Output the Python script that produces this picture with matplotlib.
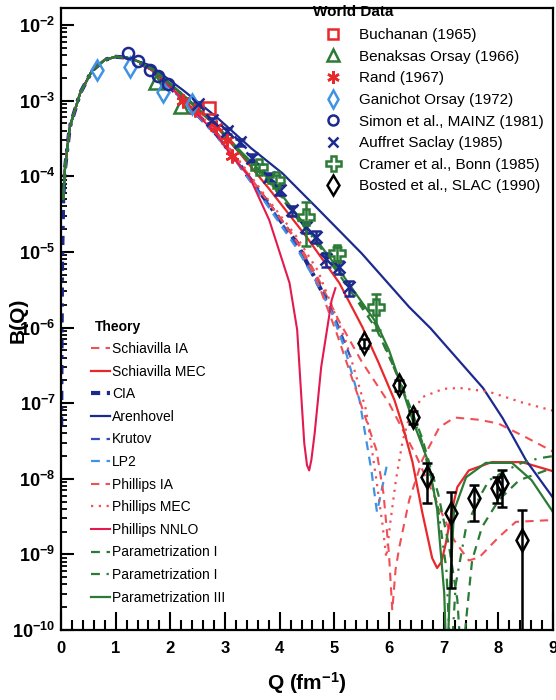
import matplotlib.pyplot as plt
import matplotlib.ticker as mticker
from matplotlib.lines import Line2D
import numpy as np

plt.rcParams['font.family'] = ['Liberation Sans', 'DejaVu Sans']
plt.rcParams['font.weight'] = 'normal'
plt.rcParams['mathtext.fontset'] = 'custom'
plt.rcParams['mathtext.rm'] = 'Liberation Sans:bold'
plt.rcParams['mathtext.bf'] = 'Liberation Sans:bold'
plt.rcParams['mathtext.it'] = 'Liberation Sans:bold'

# ---- theory curves: Q (fm^-1) and log10 B(Q) ----
lowq_Q = [0.04, 0.07, 0.16, 0.35, 0.57, 0.80, 1.00, 1.20, 1.41]
lowq_logB = [-4.3, -3.92, -3.35, -2.90, -2.60, -2.46, -2.42, -2.43, -2.48]

cia_start_Q = [0.003, 0.01, 0.02]
cia_start_logB = [-7.3, -6.2, -5.1]

schiavilla_ia_Q = [1.72, 2.23, 2.85, 3.3, 3.76, 4.31, 4.67, 5.09, 5.5, 6.0, 6.5, 6.9, 7.19, 7.46, 7.65, 8.01, 8.32, 8.87, 9.0]
schiavilla_ia_logB = [-2.63, -2.97, -3.42, -3.85, -4.31, -4.84, -5.30, -5.92, -6.45, -7.0, -7.7, -8.35, -8.81, -9.08, -9.04, -8.77, -8.57, -8.55, -8.55]

schiavilla_mec_Q = [1.72, 2.23, 2.85, 3.3, 3.8, 4.49, 5.09, 5.51, 5.8, 6.1, 6.25, 6.43, 6.61, 6.79, 6.88, 6.96, 7.04, 7.15, 7.25, 7.46, 7.88, 8.43, 9.0]
schiavilla_mec_logB = [-2.62, -2.93, -3.35, -3.72, -4.16, -4.80, -5.41, -5.99, -6.45, -6.96, -7.3, -7.78, -8.45, -9.05, -9.18, -9.1, -8.85, -8.42, -8.11, -7.89, -7.78, -7.78, -7.90]

cia_Q = [1.72, 2.23, 2.85, 3.3, 3.76, 4.31, 4.9]
cia_logB = [-2.63, -2.99, -3.45, -3.88, -4.33, -4.88, -5.70]

arenhovel_Q = [1.62, 2.23, 2.85, 3.48, 4.05, 4.67, 5.5, 6.37, 6.76, 7.72, 8.08, 8.51, 9.0]
arenhovel_logB = [-2.53, -2.86, -3.22, -3.63, -3.96, -4.41, -5.02, -5.73, -6.01, -6.80, -7.20, -7.76, -8.25]

krutov_Q = [1.72, 2.23, 2.85, 3.3, 3.76, 4.31, 4.67, 5.0, 5.3]
krutov_logB = [-2.63, -2.99, -3.44, -3.88, -4.33, -4.90, -5.35, -5.85, -6.40]

lp2_Q = [1.72, 2.23, 2.85, 3.3, 3.76, 4.31, 4.67, 4.95, 5.2, 5.46, 5.68, 5.78, 5.88, 5.97]
lp2_logB = [-2.64, -3.0, -3.47, -3.9, -4.37, -4.95, -5.40, -5.80, -6.3, -6.96, -7.90, -8.44, -8.1, -7.79]

phillips_ia_Q = [1.72, 2.23, 2.85, 3.3, 3.76, 4.31, 4.67, 5.04, 5.46, 5.77, 5.9, 6.0, 6.06, 6.12, 6.19, 6.37, 6.61, 6.92, 7.2, 7.65, 8.0, 8.5, 9.0]
phillips_ia_logB = [-2.63, -2.98, -3.43, -3.86, -4.31, -4.86, -5.35, -6.07, -6.96, -7.62, -8.2, -9.0, -9.74, -9.2, -8.90, -8.28, -7.75, -7.32, -7.19, -7.22, -7.27, -7.45, -7.64]

phillips_mec_Q = [1.72, 2.23, 2.85, 3.3, 3.76, 4.31, 4.7, 5.22, 5.58, 5.77, 5.88, 5.95, 6.02, 6.13, 6.25, 6.37, 6.61, 7.0, 7.3, 7.83, 8.43, 9.0]
phillips_mec_logB = [-2.63, -2.97, -3.41, -3.83, -4.28, -4.80, -5.25, -6.2, -7.09, -8.02, -8.6, -9.04, -8.6, -8.0, -7.5, -7.19, -6.92, -6.81, -6.80, -6.85, -6.99, -7.10]

phillips_nnlo_Q = [1.72, 2.23, 2.85, 3.14, 3.45, 3.81, 4.18, 4.32, 4.40, 4.45, 4.50, 4.54, 4.58, 4.64, 4.76, 4.95, 5.02]
phillips_nnlo_logB = [-2.63, -2.98, -3.45, -3.75, -4.01, -4.58, -5.41, -6.03, -6.96, -7.53, -7.82, -7.89, -7.75, -7.40, -6.52, -5.64, -5.48]

param1_Q = [1.72, 2.23, 2.85, 3.3, 3.87, 4.49, 5.09, 5.77, 6.2, 6.6, 6.9, 7.1, 7.25, 7.33, 7.42, 7.52, 7.70, 8.01, 8.38, 8.87, 9.0]
param1_logB = [-2.61, -2.93, -3.35, -3.71, -4.13, -4.72, -5.30, -6.02, -6.7, -7.45, -8.2, -8.9, -9.6, -10.5, -9.8, -9.08, -8.64, -8.28, -8.02, -7.89, -7.85]

param2_Q = [1.72, 2.23, 2.85, 3.3, 3.87, 4.49, 5.09, 5.77, 6.2, 6.6, 6.9, 7.05, 7.13, 7.22, 7.41, 7.65, 7.83, 8.14, 8.43, 8.74, 9.0]
param2_logB = [-2.61, -2.92, -3.34, -3.70, -4.11, -4.70, -5.27, -5.98, -6.72, -7.5, -8.4, -9.2, -10.5, -9.4, -8.64, -8.25, -8.02, -7.89, -7.79, -7.73, -7.70]

param3_Q = [1.72, 2.23, 2.85, 3.3, 3.87, 4.49, 5.09, 5.77, 6.0, 6.19, 6.43, 6.72, 6.88, 7.01, 7.06, 7.11, 7.19, 7.41, 7.77, 8.25, 8.61, 9.0]
param3_logB = [-2.60, -2.92, -3.33, -3.68, -4.09, -4.67, -5.24, -5.94, -6.30, -6.70, -7.22, -7.78, -8.4, -9.51, -10.6, -9.5, -8.42, -7.98, -7.79, -7.79, -8.02, -8.44]

# ---- world data: Q, log10 B, relative errors ----
buchanan_Q = [2.70]
buchanan_logB = [-3.10]

benaksas_Q = [1.73, 2.19]
benaksas_logB = [-2.75, -3.07]

rand_Q = [2.23, 2.45, 2.84, 3.03, 3.13]
rand_logB = [-3.00, -3.13, -3.35, -3.52, -3.73]

ganichot_Q = [0.66, 1.26, 1.86, 2.40]
ganichot_logB = [-2.60, -2.55, -2.88, -3.05]

simon_Q = [1.22, 1.40, 1.62, 1.77, 1.95]
simon_logB = [-2.37, -2.48, -2.60, -2.68, -2.78]

auffret_Q = [2.50, 2.77, 3.03, 3.27, 3.50, 3.81, 4.00, 4.23, 4.49, 4.67, 4.85, 5.09, 5.27]
auffret_logB = [-3.05, -3.26, -3.40, -3.55, -3.76, -4.01, -4.18, -4.45, -4.67, -4.80, -5.10, -5.20, -5.47]
auffret_relerr = [0.08, 0.08, 0.1, 0.1, 0.12, 0.12, 0.15, 0.15, 0.18, 0.18, 0.2, 0.2, 0.22]

cramer_Q = [3.63, 3.94, 4.49, 5.05, 5.77]
cramer_logB = [-3.88, -4.05, -4.54, -5.02, -5.73]
cramer_relerr = [0.1, 0.15, 0.58, 0.22, 0.5]

bosted_Q = [5.55, 6.19, 6.43, 6.70, 7.13, 7.55, 7.97, 8.07, 8.43]
bosted_logB = [-6.21, -6.76, -7.18, -7.98, -8.45, -8.26, -8.12, -8.06, -8.81]
bosted_relerr = [0.13, 0.17, 0.2, 0.55, 0.9, 0.5, 0.37, 0.52, 1.5]

y_tick_labels = [r'$\mathbf{10^{-10}}$', r'$\mathbf{10^{-9}}$', r'$\mathbf{10^{-8}}$', r'$\mathbf{10^{-7}}$',
                 r'$\mathbf{10^{-6}}$', r'$\mathbf{10^{-5}}$', r'$\mathbf{10^{-4}}$', r'$\mathbf{10^{-3}}$',
                 r'$\mathbf{10^{-2}}$']

RED = '#e8282a'
LRED = '#f04f55'
CRIMSON = '#e3194f'
NAVY = '#1c2a8f'
MBLUE = '#3050b8'
LBLUE = '#3f92e4'
GREEN = '#2b7a35'

fig = plt.figure(figsize=(5.56, 7.0), dpi=100)
ax = fig.add_axes([61 / 556, 70 / 700, 492 / 556, 622 / 700])


def curve(q, lb, start_q=lowq_Q, start_lb=lowq_logB):
    return np.array(start_q + q), 10.0 ** np.array(start_lb + lb)


theory = [
    ('Schiavilla IA', schiavilla_ia_Q, schiavilla_ia_logB, dict(color=LRED, ls=(0, (4, 3)), lw=1.5)),
    ('Schiavilla MEC', schiavilla_mec_Q, schiavilla_mec_logB, dict(color=RED, ls='-', lw=1.6)),
    ('CIA', cia_Q, cia_logB, dict(color=NAVY, ls=(0, (2.2, 1.6, 0.8, 1.6)), lw=3.0)),
    ('Arenhovel', arenhovel_Q, arenhovel_logB, dict(color=NAVY, ls='-', lw=1.6)),
    ('Krutov', krutov_Q, krutov_logB, dict(color=MBLUE, ls=(0, (4, 3)), lw=1.6)),
    ('LP2', lp2_Q, lp2_logB, dict(color=LBLUE, ls=(0, (4, 3)), lw=1.6)),
    ('Phillips IA', phillips_ia_Q, phillips_ia_logB, dict(color=LRED, ls=(0, (4, 3)), lw=1.5)),
    ('Phillips MEC', phillips_mec_Q, phillips_mec_logB, dict(color=LRED, ls=(0, (1, 2.5)), lw=1.6)),
    ('Phillips NNLO', phillips_nnlo_Q, phillips_nnlo_logB, dict(color=CRIMSON, ls='-', lw=1.5)),
    ('Parametrization I', param1_Q, param1_logB, dict(color=GREEN, ls=(0, (4, 3)), lw=1.6)),
    ('Parametrization I', param2_Q, param2_logB, dict(color=GREEN, ls=(0, (4, 3, 1, 3)), lw=1.6)),
    ('Parametrization III', param3_Q, param3_logB, dict(color=GREEN, ls='-', lw=1.6)),
]

theory_handles = []
for name, q, lb, st in theory:
    if name == 'CIA':
        x, y = curve(q, lb, cia_start_Q + lowq_Q, cia_start_logB + lowq_logB)
    else:
        x, y = curve(q, lb)
    ax.plot(x, y, zorder=2, **st)
    theory_handles.append(Line2D([], [], label=name, **st))

# world data
data = [
    ('Buchanan (1965)', buchanan_Q, buchanan_logB, None, dict(marker='s', color=RED, ms=8)),
    ('Benaksas Orsay (1966)', benaksas_Q, benaksas_logB, None, dict(marker='^', color=GREEN, ms=10)),
    ('Rand (1967)', rand_Q, rand_logB, None, dict(marker=(6, 2, 0), color=RED, ms=10)),
    ('Ganichot Orsay (1972)', ganichot_Q, ganichot_logB, None, dict(marker='d', color=LBLUE, ms=10)),
    ('Simon et al., MAINZ (1981)', simon_Q, simon_logB, None, dict(marker='o', color=NAVY, ms=8)),
    ('Auffret Saclay (1985)', auffret_Q, auffret_logB, auffret_relerr, dict(marker='x', color=NAVY, ms=8)),
    ('Cramer et al., Bonn (1985)', cramer_Q, cramer_logB, cramer_relerr, dict(marker='P', color=GREEN, ms=12)),
    ('Bosted et al., SLAC (1990)', bosted_Q, bosted_logB, bosted_relerr, dict(marker='d', color='black', ms=11)),
]

data_handles = []
for name, q, lb, rel, st in data:
    b = 10.0 ** np.array(lb)
    yerr = None if rel is None else b * np.array(rel)
    c = st['color']
    ax.errorbar(q, b, yerr=yerr, fmt='none', ecolor=c, elinewidth=1.8, capsize=3.5, capthick=1.8, zorder=3)
    ax.plot(q, b, ls='none', marker=st['marker'], ms=st['ms'], mfc='none', mec=c, mew=1.8, zorder=4)
    data_handles.append(Line2D([], [], ls='none', marker=st['marker'], ms=st['ms'] * 0.9, mfc='none',
                               mec=c, mew=1.8, label=name))

ax.set_yscale('log')
ax.set_xlim(0, 9)
ax.set_ylim(1e-10, 1.68e-2)

ax.xaxis.set_major_locator(mticker.MultipleLocator(1))
ax.xaxis.set_minor_locator(mticker.MultipleLocator(0.2))
ax.yaxis.set_major_locator(mticker.FixedLocator([10.0 ** k for k in range(-10, -1)]))
ax.yaxis.set_major_formatter(mticker.FixedFormatter(y_tick_labels))
ax.yaxis.set_minor_locator(mticker.LogLocator(base=10, subs=np.arange(2, 10), numticks=20))
ax.yaxis.set_minor_formatter(mticker.NullFormatter())

ax.tick_params(axis='x', which='major', direction='in', length=13, width=1.5, labelsize=12, pad=8)
ax.tick_params(axis='x', which='minor', direction='in', length=7, width=1.5)
ax.tick_params(axis='y', which='major', direction='in', length=9, width=1.5, labelsize=13, pad=4)
ax.tick_params(axis='y', which='minor', direction='in', length=4.5, width=1.3)
ax.tick_params(top=False, right=False, which='both')
for lab in ax.get_xticklabels():
    lab.set_fontweight('bold')
for s in ax.spines.values():
    s.set_linewidth(1.6)

ax.set_xlabel(r'Q (fm$^{\mathbf{-1}}$)', fontsize=15, fontweight='bold', labelpad=10)
fig.text(18 / 556, 1 - 320 / 700, 'B(Q)', fontsize=15, fontweight='bold', rotation=90,
         ha='center', va='center')

leg1 = ax.legend(handles=data_handles, loc='upper left', bbox_to_anchor=(322 / 556, 1 - 28 / 700),
                 bbox_transform=fig.transFigure, frameon=False, fontsize=11, borderpad=0,
                 borderaxespad=0, handlelength=1.5, handletextpad=0.95, labelspacing=0.5)
ax.add_artist(leg1)
fig.text(313 / 556, 1 - 12 / 700, 'World Data', fontsize=11, fontweight='bold', va='center', ha='left')

leg2 = ax.legend(handles=theory_handles, loc='upper left', bbox_to_anchor=(91 / 556, 1 - 342 / 700),
                 bbox_transform=fig.transFigure, frameon=False, fontsize=10, borderpad=0,
                 borderaxespad=0, handlelength=1.4, handletextpad=0.1, labelspacing=0.62)
fig.text(95 / 556, 1 - 327 / 700, 'Theory', fontsize=10, fontweight='bold', va='center', ha='left')

fig.savefig('out.png', dpi=100)
